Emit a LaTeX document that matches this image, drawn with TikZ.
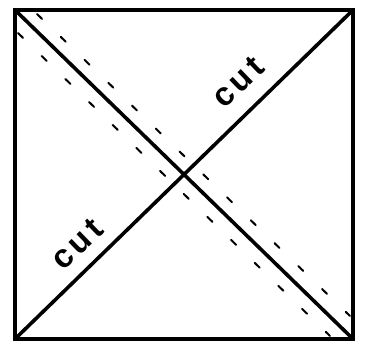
\documentclass[tikz,border=0pt]{standalone}
\usepackage{fontspec}
\newfontfamily\handfont[LetterSpace=12]{Liberation Sans}
\usetikzlibrary{positioning}

\begin{document}
\begin{tikzpicture}[x=1pt, y=-1pt,
  edgeline/.style={line width=4.8pt, line join=miter},
  diagline/.style={line width=3.6pt, line cap=round},
  foldline/.style={line width=2pt, dash pattern=on 7pt off 26pt, line cap=round},
  cutlabel/.style={font=\handfont\bfseries\fontsize{33}{33}\selectfont, rotate=44, inner sep=0pt}
]
  \useasboundingbox (0,0) rectangle (365,347);

  % paper square
  \coordinate (tl) at (15,10);
  \coordinate (tr) at (353,10);
  \coordinate (br) at (353,339);
  \coordinate (bl) at (15,339);
  \draw[edgeline] (tl) -- (tr) -- (br) -- (bl) -- cycle;

  % the two cuts
  \draw[diagline] (tl) -- (br);
  \draw[diagline] (bl) -- (tr);

  % fold lines beside the falling diagonal
  \coordinate (foldAs) at (37,14);
  \coordinate (foldAe) at (350,316);
  \coordinate (foldBs) at (18,33);
  \coordinate (foldBe) at (330,336);
  \draw[foldline] (foldAs) -- (foldAe);
  \draw[foldline] (foldBs) -- (foldBe);

  % labels
  \node[cutlabel] (cutA) at (238,82) {cut};
  \node[cutlabel] (cutB) at (77,244) {cut};
\end{tikzpicture}
\end{document}
